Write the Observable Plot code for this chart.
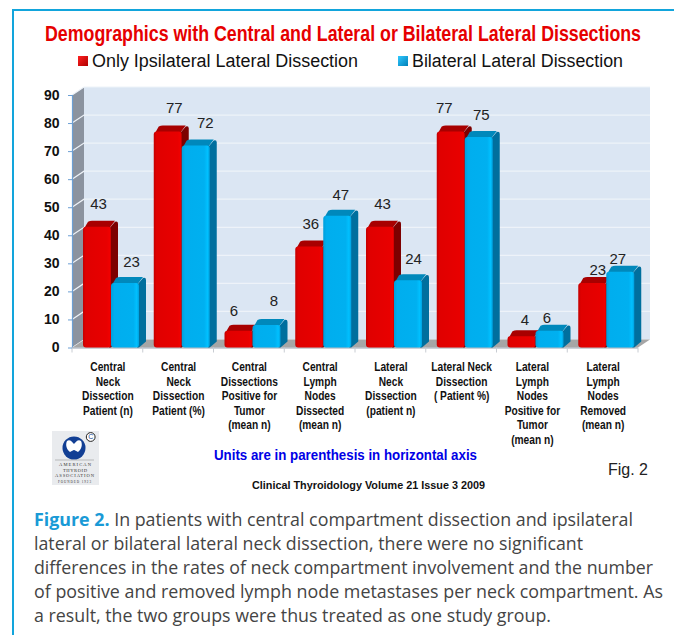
<!DOCTYPE html>
<html><head><meta charset="utf-8">
<script src="https://cdn.jsdelivr.net/npm/d3@7"></script>
<script src="https://cdn.jsdelivr.net/npm/@observablehq/plot@0.6"></script>
<style>
html,body{margin:0;padding:0;background:#fff;width:674px;height:635px;overflow:hidden}
#page{position:relative;width:674px;height:635px}
.abs{position:absolute;white-space:nowrap}
.arial{font-family:"Liberation Sans",Arial,sans-serif}
.fit{transform-origin:0 50%}
#chart{position:absolute;left:0;top:80px}
.cap{left:34px;font:17.5px/24px "Open Sans",sans-serif;color:#444}
.cap b{color:#1a9ad6;font-weight:700}
</style></head><body>
<div id="page">
<div class="abs" style="left:13px;top:9px;width:661px;height:2px;background:#12a5dc"></div>
<div class="abs" style="left:12px;top:9px;width:2px;height:626px;background:#12a5dc"></div>
<div class="abs arial fit" data-w="596" style="left:45px;top:21px;font-size:22px;font-weight:700;color:#e60000">Demographics with Central and Lateral or Bilateral Lateral Dissections</div>
<div class="abs" style="left:78px;top:56px;width:10px;height:10px;background:linear-gradient(135deg,#ff2020,#b00000)"></div>
<div class="abs arial fit" data-w="266" style="left:92px;top:51px;font-size:18px;color:#111">Only Ipsilateral Lateral Dissection</div>
<div class="abs" style="left:398px;top:56px;width:10px;height:10px;background:linear-gradient(135deg,#30c8ff,#0080b8)"></div>
<div class="abs arial fit" data-w="211" style="left:412px;top:51px;font-size:18px;color:#111">Bilateral Lateral Dissection</div>
<div id="chart"></div>
<svg class="abs" style="left:52px;top:431px" width="47" height="54" viewBox="0 0 47 54">
<rect width="47" height="54" fill="#e9ebee"/>
<circle cx="22" cy="17" r="11.5" fill="#123f94"/>
<path d="M15 10c3-2 5 1 7 3c2-2 4-5 7-3c2 4 0 9-3 11c-2-1-3-2-4-2s-2 1-4 2c-3-2-5-7-3-11z" fill="#fff"/>
<circle cx="38.7" cy="6" r="4.4" fill="#fff" stroke="#222" stroke-width="1"/>
<text x="38.7" y="8.4" font-size="7" text-anchor="middle" fill="#123f94" font-family="Liberation Sans">C</text>
<line x1="3" y1="29" x2="42" y2="29" stroke="#999" stroke-width=".6"/>
<g font-family="Liberation Serif" fill="#333">
<text x="7" y="35" font-size="4.6" textLength="32">AMERICAN</text>
<text x="11" y="40.5" font-size="4.6" textLength="24">THYROID</text>
<text x="3" y="46" font-size="4.6" textLength="39">ASSOCIATION</text>
<text x="6" y="51.5" font-size="3.2" textLength="33">FOUNDED 1923</text></g>
</svg>
<div class="abs arial fit" data-w="263" style="left:214px;top:446px;font-size:15px;font-weight:700;color:#0000e6">Units are in parenthesis in horizontal axis</div>
<div class="abs arial fit" data-w="233" style="left:252px;top:479px;font-size:10.5px;font-weight:700;color:#111">Clinical Thyroidology Volume 21 Issue 3 2009</div>
<div class="abs arial" style="left:608px;top:461px;font-size:16px;color:#222">Fig. 2</div>
<div class="abs cap fit" data-w="599" style="top:507px"><b>Figure 2.</b> In patients with central compartment dissection and ipsilateral</div>
<div class="abs cap fit" data-w="549" style="top:531px">lateral or bilateral lateral neck dissection, there were no significant</div>
<div class="abs cap fit" data-w="619" style="top:555px">differences in the rates of neck compartment involvement and the number</div>
<div class="abs cap fit" data-w="629" style="top:579px">of positive and removed lymph node metastases per neck compartment. As</div>
<div class="abs cap fit" data-w="517" style="top:603px">a result, the two groups were thus treated as one study group.</div>
</div>
<script>
const categories = [
  "Central\nNeck\nDissection\nPatient (n)",
  "Central\nNeck\nDissection\nPatient (%)",
  "Central\nDissections\nPositive for\nTumor\n(mean n)",
  "Central\nLymph\nNodes\nDissected\n(mean n)",
  "Lateral\nNeck\nDissection\n(patient n)",
  "Lateral Neck\nDissection\n( Patient %)",
  "Lateral\nLymph\nNodes\nPositive for\nTumor\n(mean n)",
  "Lateral\nLymph\nNodes\nRemoved\n(mean n)"
];
const ipsilateral = [43, 77, 6, 36, 43, 77, 4, 23];
const bilateral = [23, 72, 8, 47, 24, 75, 6, 27];
const yTicks = [0, 10, 20, 30, 40, 50, 60, 70, 80, 90];

// label offsets from the bar top (dx, dy)
const ipsiNudge = [[1,-23],[6,-24],[-5,-20],[1,-23],[2,-23],[-7,-24],[3,-17],[5,-13]];
const biNudge   = [[6,-21],[9,-23],[7,-24],[3,-21],[5,-21],[2,-22],[-3,-13],[-3,-13]];

const ipsiRows = categories.map((c, i) => ({c, v: ipsilateral[i], n: ipsiNudge[i]}));
const biRows = categories.map((c, i) => ({c, v: bilateral[i], n: biNudge[i]}));

const depthX = 12, depthY = 8, barDX = 7, barDY = 6;
const font = '"Liberation Sans",Arial,sans-serif';

function backdrop(index, {x, y}, values, dims) {
  const g = d3.create("svg:g");
  const defs = g.append("defs");
  const grad = (id, stops) => {
    const l = defs.append("linearGradient").attr("id", id);
    stops.forEach(([o, c]) => l.append("stop").attr("offset", o).attr("stop-color", c));
  };
  grad("redFront", [[0, "#c40000"], [.1, "#e00000"], [.85, "#e80000"], [.95, "#f00000"], [1, "#c80000"]]);
  grad("blueFront", [[0, "#009fdc"], [.12, "#00aeee"], [.8, "#00b0f0"], [.92, "#00c0ff"], [1, "#00a0de"]]);
  const L = dims.marginLeft, R = dims.width - dims.marginRight;
  const y0 = y(0), yT = y(90);
  g.append("rect").attr("x", L + depthX).attr("y", yT - depthY).attr("width", R - L).attr("height", y0 - yT)
    .attr("fill", "#dbe6f3");
  g.append("path").attr("d", `M${L},${yT}L${L + depthX},${yT - depthY}V${y0 - depthY}L${L},${y0}Z`).attr("fill", "#8b939f");
  g.append("path").attr("d", `M${L},${y0}L${L + depthX},${y0 - depthY}H${R + depthX}L${R},${y0}Z`).attr("fill", "#a6a6a6");
  yTicks.slice(1).forEach(t => {
    g.append("path").attr("d", `M${L},${y(t)}L${L + depthX},${y(t) - depthY}H${R + depthX}`)
      .attr("fill", "none").attr("stroke", "#eef3f9").attr("stroke-width", 1.2);
  });
  g.append("path").attr("d", `M${L},${y0}L${L + depthX},${y0 - depthY}`).attr("stroke", "#d5d8dc").attr("fill", "none");
  g.append("line").attr("x1", L + .5).attr("x2", L + .5).attr("y1", yT).attr("y2", y0).attr("stroke", "#6c9fd4").attr("stroke-width", 1.2);
  g.append("line").attr("x1", L).attr("x2", R).attr("y1", y0 + .5).attr("y2", y0 + .5).attr("stroke", "#9aa4b2").attr("stroke-width", 1.2);
  [...categories.map(c => x(c)), R].forEach(px => g.append("line").attr("x1", px).attr("x2", px)
    .attr("y1", y0).attr("y2", y0 + 5).attr("stroke", "#c8ccd2"));
  return g.node();
}

// Draws each bar from the library's rect, adding its extruded side and top.
const extrude = (side, top) => (index, scales, values, dims, ctx, next) => {
  const g = next(index, scales, values, dims, ctx);
  g.querySelectorAll("rect").forEach(r => {
    const X = +r.getAttribute("x"), Y = +r.getAttribute("y"), W = +r.getAttribute("width"), H = +r.getAttribute("height");
    const ns = "http://www.w3.org/2000/svg";
    const s = document.createElementNS(ns, "path");
    s.setAttribute("d", `M${X + W - 2},${Y + 2}L${X + W + barDX - 3},${Y - barDY + 1}Q${X + W + barDX},${Y - barDY} ${X + W + barDX},${Y - barDY + 3}V${Y + H - barDY}L${X + W},${Y + H}H${X + W - 2}Z`);
    s.setAttribute("fill", side);
    const t = document.createElementNS(ns, "path");
    t.setAttribute("d", `M${X + 1},${Y + 2}L${X + barDX - 2},${Y - barDY + 1}Q${X + barDX},${Y - barDY} ${X + barDX + 2},${Y - barDY}H${X + W + barDX - 3}L${X + W - 2},${Y + 2}Z`);
    t.setAttribute("fill", top);
    r.parentNode.insertBefore(s, r);
    r.parentNode.insertBefore(t, r);
  });
  return g;
};

const condense = (k) => (index, scales, values, dims, ctx, next) => {
  const g = next(index, scales, values, dims, ctx);
  g.querySelectorAll("text").forEach(t => t.setAttribute("transform", `${t.getAttribute("transform") || ""} scale(${k},1)`));
  return g;
};

const valueLabels = (rows, barCenter) => rows.map(d => Plot.text([d], {
  x: "c", y: "v", text: "v", dx: barCenter + d.n[0], dy: d.n[1],
  fontSize: 15, fill: "#222", fontFamily: font
}));

const chart = Plot.plot({
  width: 674, height: 370,
  marginLeft: 72, marginRight: 36, marginTop: 15, marginBottom: 102.5,
  x: {domain: categories, padding: 0, round: false, axis: null},
  y: {domain: [0, 90], axis: null},
  style: {background: "transparent", overflow: "visible"},
  marks: [
    backdrop,
    Plot.axisY(yTicks, {anchor: "left", label: null, tickSize: 4, tickPadding: 9, stroke: "#6c9fd4",
      fill: "#111", fontWeight: "bold", fontSize: 14, fontFamily: font}),
    Plot.barY(ipsiRows, {x: "c", y: "v", insetLeft: 11, insetRight: 31.75, rx: 3, fill: "url(#redFront)",
      render: extrude("#7d0000", "#a80000")}),
    Plot.barY(biRows, {x: "c", y: "v", insetLeft: 39, insetRight: 3.75, rx: 3, fill: "url(#blueFront)",
      render: extrude("#006f9e", "#0088bb")}),
    ...valueLabels(ipsiRows, -10.4),
    ...valueLabels(biRows, 17.6),
    Plot.text(categories, {x: d => d, y: () => 0, text: d => d, lineAnchor: "top", dy: 13, lineHeight: 1.21,
      fontSize: 12, fontWeight: "bold", fill: "#111", fontFamily: font, render: condense(0.85)})
  ]
});
document.getElementById("chart").appendChild(chart);

// Fit long text lines to the widths they occupy in the reference.
document.querySelectorAll(".fit").forEach(el => {
  const k = +el.dataset.w / el.getBoundingClientRect().width;
  el.style.transform = `scaleX(${k})`;
});
</script>
</body></html>
